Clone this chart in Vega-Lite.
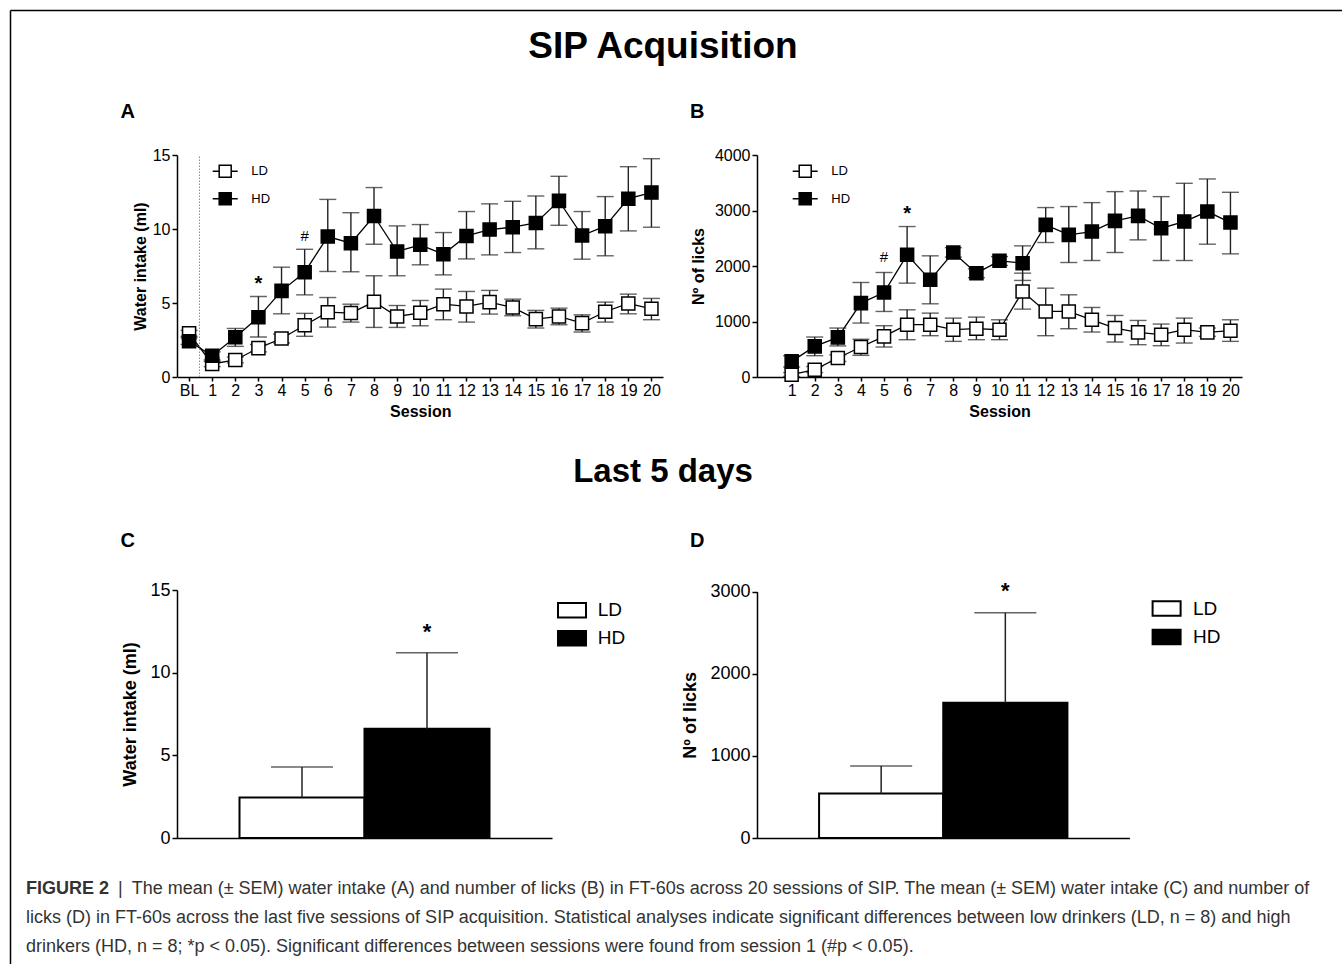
{
  "$schema": "https://vega.github.io/schema/vega-lite/v6.json",
  "width": 1342,
  "height": 964,
  "autosize": {"type": "none"},
  "padding": 0,
  "background": "white",
  "config": {
    "view": {"stroke": null},
    "axis": {"grid": false, "domainColor": "black", "domainWidth": 1.5, "tickColor": "black", "tickWidth": 1.5, "labelColor": "black", "titleColor": "black", "labelFont": "Liberation Sans", "titleFont": "Liberation Sans", "labelOverlap": false, "labelFlush": false},
    "legend": {"labelFont": "Liberation Sans", "labelColor": "black", "title": null, "orient": "none"},
    "text": {"font": "Liberation Sans"}
  },
  "datasets": {
    "A": [
      {"s": 0, "g": "LD", "m": 2.95, "lo": 2.75, "hi": 3.15},
      {"s": 1, "g": "LD", "m": 0.88, "lo": 0.7, "hi": 1.05},
      {"s": 2, "g": "LD", "m": 1.15, "lo": 0.95, "hi": 1.35},
      {"s": 3, "g": "LD", "m": 1.95, "lo": 1.7, "hi": 2.2},
      {"s": 4, "g": "LD", "m": 2.6, "lo": 2.3, "hi": 2.9},
      {"s": 5, "g": "LD", "m": 3.5, "lo": 2.75, "hi": 4.3},
      {"s": 6, "g": "LD", "m": 4.38, "lo": 3.37, "hi": 5.37},
      {"s": 7, "g": "LD", "m": 4.32, "lo": 3.71, "hi": 4.92},
      {"s": 8, "g": "LD", "m": 5.08, "lo": 3.35, "hi": 6.84},
      {"s": 9, "g": "LD", "m": 4.09, "lo": 3.35, "hi": 4.83},
      {"s": 10, "g": "LD", "m": 4.34, "lo": 3.46, "hi": 5.17},
      {"s": 11, "g": "LD", "m": 4.92, "lo": 3.87, "hi": 5.94},
      {"s": 12, "g": "LD", "m": 4.77, "lo": 3.71, "hi": 5.78},
      {"s": 13, "g": "LD", "m": 5.06, "lo": 4.25, "hi": 5.85},
      {"s": 14, "g": "LD", "m": 4.7, "lo": 4.14, "hi": 5.26},
      {"s": 15, "g": "LD", "m": 3.91, "lo": 3.31, "hi": 4.5},
      {"s": 16, "g": "LD", "m": 4.09, "lo": 3.53, "hi": 4.65},
      {"s": 17, "g": "LD", "m": 3.64, "lo": 3.04, "hi": 4.2},
      {"s": 18, "g": "LD", "m": 4.41, "lo": 3.71, "hi": 5.06},
      {"s": 19, "g": "LD", "m": 4.97, "lo": 4.27, "hi": 5.6},
      {"s": 20, "g": "LD", "m": 4.61, "lo": 3.87, "hi": 5.31},
      {"s": 0, "g": "HD", "m": 2.42, "lo": 2.2, "hi": 2.65},
      {"s": 1, "g": "HD", "m": 1.44, "lo": 1.15, "hi": 1.7},
      {"s": 2, "g": "HD", "m": 2.68, "lo": 2.07, "hi": 3.28},
      {"s": 3, "g": "HD", "m": 4.03, "lo": 2.7, "hi": 5.44},
      {"s": 4, "g": "HD", "m": 5.82, "lo": 4.27, "hi": 7.42},
      {"s": 5, "g": "HD", "m": 7.08, "lo": 5.55, "hi": 8.63},
      {"s": 6, "g": "HD", "m": 9.49, "lo": 7.13, "hi": 12.0},
      {"s": 7, "g": "HD", "m": 9.04, "lo": 7.11, "hi": 11.1},
      {"s": 8, "g": "HD", "m": 10.88, "lo": 8.97, "hi": 12.8},
      {"s": 9, "g": "HD", "m": 8.48, "lo": 6.84, "hi": 10.21},
      {"s": 10, "g": "HD", "m": 8.93, "lo": 7.58, "hi": 10.3},
      {"s": 11, "g": "HD", "m": 8.3, "lo": 6.9, "hi": 9.76},
      {"s": 12, "g": "HD", "m": 9.53, "lo": 7.98, "hi": 11.18},
      {"s": 13, "g": "HD", "m": 9.96, "lo": 8.25, "hi": 11.7},
      {"s": 14, "g": "HD", "m": 10.12, "lo": 8.41, "hi": 11.87},
      {"s": 15, "g": "HD", "m": 10.41, "lo": 8.66, "hi": 12.23},
      {"s": 16, "g": "HD", "m": 11.9, "lo": 10.25, "hi": 13.56},
      {"s": 17, "g": "HD", "m": 9.56, "lo": 7.96, "hi": 11.18},
      {"s": 18, "g": "HD", "m": 10.19, "lo": 8.19, "hi": 12.19},
      {"s": 19, "g": "HD", "m": 12.05, "lo": 9.87, "hi": 14.21},
      {"s": 20, "g": "HD", "m": 12.46, "lo": 10.12, "hi": 14.75}
    ],
    "B": [
      {"s": 1, "g": "LD", "m": 42, "lo": 10, "hi": 80},
      {"s": 2, "g": "LD", "m": 132, "lo": 80, "hi": 190},
      {"s": 3, "g": "LD", "m": 342, "lo": 280, "hi": 400},
      {"s": 4, "g": "LD", "m": 540, "lo": 390, "hi": 680},
      {"s": 5, "g": "LD", "m": 732, "lo": 540, "hi": 924},
      {"s": 6, "g": "LD", "m": 942, "lo": 672, "hi": 1211},
      {"s": 7, "g": "LD", "m": 942, "lo": 744, "hi": 1151},
      {"s": 8, "g": "LD", "m": 852, "lo": 642, "hi": 1061},
      {"s": 9, "g": "LD", "m": 870, "lo": 672, "hi": 1079},
      {"s": 10, "g": "LD", "m": 852, "lo": 672, "hi": 1031},
      {"s": 11, "g": "LD", "m": 1541, "lo": 1223, "hi": 1871},
      {"s": 12, "g": "LD", "m": 1181, "lo": 744, "hi": 1601},
      {"s": 13, "g": "LD", "m": 1181, "lo": 870, "hi": 1481},
      {"s": 14, "g": "LD", "m": 1031, "lo": 810, "hi": 1253},
      {"s": 15, "g": "LD", "m": 882, "lo": 630, "hi": 1109},
      {"s": 16, "g": "LD", "m": 804, "lo": 582, "hi": 1019},
      {"s": 17, "g": "LD", "m": 762, "lo": 564, "hi": 954},
      {"s": 18, "g": "LD", "m": 852, "lo": 612, "hi": 1061},
      {"s": 19, "g": "LD", "m": 804, "lo": 732, "hi": 882},
      {"s": 20, "g": "LD", "m": 834, "lo": 642, "hi": 1031},
      {"s": 1, "g": "HD", "m": 282, "lo": 180, "hi": 384},
      {"s": 2, "g": "HD", "m": 552, "lo": 384, "hi": 720},
      {"s": 3, "g": "HD", "m": 714, "lo": 560, "hi": 882},
      {"s": 4, "g": "HD", "m": 1331, "lo": 972, "hi": 1703},
      {"s": 5, "g": "HD", "m": 1523, "lo": 1181, "hi": 1883},
      {"s": 6, "g": "HD", "m": 2201, "lo": 1691, "hi": 2711},
      {"s": 7, "g": "HD", "m": 1751, "lo": 1319, "hi": 2183},
      {"s": 8, "g": "HD", "m": 2243, "lo": 2160, "hi": 2330},
      {"s": 9, "g": "HD", "m": 1871, "lo": 1790, "hi": 1950},
      {"s": 10, "g": "HD", "m": 2093, "lo": 2010, "hi": 2170},
      {"s": 11, "g": "HD", "m": 2051, "lo": 1740, "hi": 2363},
      {"s": 12, "g": "HD", "m": 2741, "lo": 2423, "hi": 3053},
      {"s": 13, "g": "HD", "m": 2561, "lo": 2063, "hi": 3071},
      {"s": 14, "g": "HD", "m": 2621, "lo": 2099, "hi": 3142},
      {"s": 15, "g": "HD", "m": 2813, "lo": 2243, "hi": 3340},
      {"s": 16, "g": "HD", "m": 2903, "lo": 2471, "hi": 3352},
      {"s": 17, "g": "HD", "m": 2681, "lo": 2099, "hi": 3250},
      {"s": 18, "g": "HD", "m": 2801, "lo": 2099, "hi": 3490},
      {"s": 19, "g": "HD", "m": 2981, "lo": 2393, "hi": 3568},
      {"s": 20, "g": "HD", "m": 2783, "lo": 2219, "hi": 3328}
    ],
    "Aann": [{"s": 3, "y": 6.3, "t": "*"}, {"s": 5, "y": 9.56, "t": "#"}],
    "Bann": [{"s": 6, "y": 2939, "t": "*"}, {"s": 5, "y": 2159, "t": "#"}],
    "C": [{"g": "LD", "m": 2.45, "hi": 4.3}, {"g": "HD", "m": 6.61, "hi": 11.2}],
    "D": [{"g": "LD", "m": 541, "hi": 878}, {"g": "HD", "m": 1646, "hi": 2744}],
    "Cann": [{"g": "HD", "y": 12.45, "t": "*"}],
    "Dann": [{"g": "HD", "y": 3010, "t": "*"}],
    "heads": [{"t": "SIP Acquisition", "r": 0}, {"t": "Last 5 days", "r": 1}],
    "letters": [{"t": "A", "c": 0, "r": 0}, {"t": "B", "c": 1, "r": 0}, {"t": "C", "c": 0, "r": 1}, {"t": "D", "c": 1, "r": 1}],
    "caption": [
      {"line": 0, "seg": 0, "w": "b", "t": "FIGURE 2"},
      {"line": 0, "seg": 1, "w": "n", "t": "|\u2002The mean (± SEM) water intake (A) and number of licks (B) in FT-60s across 20 sessions of SIP. The mean (± SEM) water intake (C) and number of"},
      {"line": 1, "seg": 0, "w": "n", "t": "licks (D) in FT-60s across the last five sessions of SIP acquisition. Statistical analyses indicate significant differences between low drinkers (LD, n = 8) and high"},
      {"line": 2, "seg": 0, "w": "n", "t": "drinkers (HD, n = 8; *p < 0.05). Significant differences between sessions were found from session 1 (#p < 0.05)."}
    ],
    "frame": [{"v": 0}]
  },
  "layer": [
    {
      "data": {"name": "A"},
      "layer": [
        {
          "mark": {"type": "line", "color": "black", "strokeWidth": 1.3},
          "encoding": {
            "x": {"field": "s", "type": "quantitative", "scale": {"domain": [-0.5, 20.5], "range": [177.5, 663], "nice": false, "zero": false},
              "axis": {"orient": "bottom", "offset": -587, "values": [0,1,2,3,4,5,6,7,8,9,10,11,12,13,14,15,16,17,18,19,20], "format": "d", "labelExpr": "datum.value === 0 ? 'BL' : datum.label", "title": "Session", "titleFontSize": 16, "titleFontWeight": "bold", "labelFontSize": 16, "tickSize": 4, "labelPadding": 1, "titlePadding": 5}},
            "y": {"field": "m", "type": "quantitative", "scale": {"domain": [0, 15], "range": [377, 155], "nice": false},
              "axis": {"orient": "left", "offset": -177, "values": [0, 5, 10, 15], "format": "d", "title": "Water intake (ml)", "titleFontSize": 16, "titleFontWeight": "bold", "labelFontSize": 16, "tickSize": 5, "labelPadding": 2, "titlePadding": 4}},
            "detail": {"field": "g"}
          }
        },
        {
          "data": {"values": [{"bl": 0.45, "y0": 0, "y1": 15}]},
          "mark": {"type": "rule", "color": "#888", "strokeDash": [1.5, 1.5], "strokeWidth": 1},
          "encoding": {"x": {"field": "bl", "type": "quantitative"}, "y": {"field": "y0", "type": "quantitative"}, "y2": {"field": "y1"}}
        },
        {
          "mark": {"type": "rule", "color": "#222", "strokeWidth": 1.4},
          "encoding": {"x": {"field": "s", "type": "quantitative"}, "y": {"field": "lo", "type": "quantitative"}, "y2": {"field": "hi"}}
        },
        {
          "mark": {"type": "tick", "orient": "horizontal", "color": "#222", "size": 17, "thickness": 1.4},
          "encoding": {"x": {"field": "s", "type": "quantitative"}, "y": {"field": "hi", "type": "quantitative"}}
        },
        {
          "mark": {"type": "tick", "orient": "horizontal", "color": "#222", "size": 17, "thickness": 1.4},
          "encoding": {"x": {"field": "s", "type": "quantitative"}, "y": {"field": "lo", "type": "quantitative"}}
        },
        {
          "mark": {"type": "point", "shape": "square", "filled": true, "size": 170, "stroke": "black", "strokeWidth": 1.5, "opacity": 1},
          "encoding": {
            "x": {"field": "s", "type": "quantitative"},
            "y": {"field": "m", "type": "quantitative"},
            "fill": {"field": "g", "type": "nominal", "scale": {"domain": ["LD", "HD"], "range": ["white", "black"]},
              "legend": {"orient": "none", "legendX": 211.7, "legendY": 157.7, "title": null, "symbolType": "M-1,0H-0.48M0.48,0H1M-0.48,-0.48H0.48V0.48H-0.48Z", "symbolSize": 625, "symbolStrokeColor": "black", "symbolStrokeWidth": 1.5, "labelFontSize": 13, "labelOffset": 12.6, "rowPadding": 4.6}}
          }
        },
        {
          "data": {"name": "Aann"},
          "transform": [{"filter": "datum.t === '*'"}],
          "mark": {"type": "text", "fontSize": 20, "fontWeight": "bold", "baseline": "middle", "color": "black"},
          "encoding": {"x": {"field": "s", "type": "quantitative"}, "y": {"field": "y", "type": "quantitative"}, "text": {"field": "t"}}
        },
        {
          "data": {"name": "Aann"},
          "transform": [{"filter": "datum.t === '#'"}],
          "mark": {"type": "text", "fontSize": 15, "baseline": "middle", "color": "black"},
          "encoding": {"x": {"field": "s", "type": "quantitative"}, "y": {"field": "y", "type": "quantitative"}, "text": {"field": "t"}}
        }
      ]
    },
    {
      "data": {"name": "B"},
      "layer": [
        {
          "mark": {"type": "line", "color": "black", "strokeWidth": 1.3},
          "encoding": {
            "x": {"field": "s", "type": "quantitative", "scale": {"domain": [-0.5, 20.5], "range": [757, 1242], "nice": false, "zero": false},
              "axis": {"orient": "bottom", "offset": -587, "values": [1,2,3,4,5,6,7,8,9,10,11,12,13,14,15,16,17,18,19,20], "format": "d", "title": "Session", "titleFontSize": 16, "titleFontWeight": "bold", "labelFontSize": 16, "tickSize": 4, "labelPadding": 1, "titlePadding": 5}},
            "y": {"field": "m", "type": "quantitative", "scale": {"domain": [0, 4000], "range": [377, 155], "nice": false},
              "axis": {"orient": "left", "offset": -757, "values": [0, 1000, 2000, 3000, 4000], "format": "d", "title": "Nº of licks", "titleFontSize": 16, "titleFontWeight": "bold", "labelFontSize": 16, "tickSize": 5, "labelPadding": 2, "titlePadding": 8}},
            "detail": {"field": "g"}
          }
        },
        {
          "mark": {"type": "rule", "color": "#222", "strokeWidth": 1.4},
          "encoding": {"x": {"field": "s", "type": "quantitative"}, "y": {"field": "lo", "type": "quantitative"}, "y2": {"field": "hi"}}
        },
        {
          "mark": {"type": "tick", "orient": "horizontal", "color": "#222", "size": 17, "thickness": 1.4},
          "encoding": {"x": {"field": "s", "type": "quantitative"}, "y": {"field": "hi", "type": "quantitative"}}
        },
        {
          "mark": {"type": "tick", "orient": "horizontal", "color": "#222", "size": 17, "thickness": 1.4},
          "encoding": {"x": {"field": "s", "type": "quantitative"}, "y": {"field": "lo", "type": "quantitative"}}
        },
        {
          "mark": {"type": "point", "shape": "square", "filled": true, "size": 170, "stroke": "black", "strokeWidth": 1.5, "opacity": 1},
          "encoding": {
            "x": {"field": "s", "type": "quantitative"},
            "y": {"field": "m", "type": "quantitative"},
            "fill": {"field": "g", "type": "nominal", "scale": {"domain": ["LD", "HD"], "range": ["white", "black"]},
              "legend": {"orient": "none", "legendX": 791.7, "legendY": 157.7, "title": null, "symbolType": "M-1,0H-0.48M0.48,0H1M-0.48,-0.48H0.48V0.48H-0.48Z", "symbolSize": 625, "symbolStrokeColor": "black", "symbolStrokeWidth": 1.5, "labelFontSize": 13, "labelOffset": 12.6, "rowPadding": 4.6}}
          }
        },
        {
          "data": {"name": "Bann"},
          "transform": [{"filter": "datum.t === '*'"}],
          "mark": {"type": "text", "fontSize": 20, "fontWeight": "bold", "baseline": "middle", "color": "black"},
          "encoding": {"x": {"field": "s", "type": "quantitative"}, "y": {"field": "y", "type": "quantitative"}, "text": {"field": "t"}}
        },
        {
          "data": {"name": "Bann"},
          "transform": [{"filter": "datum.t === '#'"}],
          "mark": {"type": "text", "fontSize": 15, "baseline": "middle", "color": "black"},
          "encoding": {"x": {"field": "s", "type": "quantitative"}, "y": {"field": "y", "type": "quantitative"}, "text": {"field": "t"}}
        }
      ]
    },
    {
      "data": {"name": "C"},
      "layer": [
        {
          "mark": {"type": "bar", "stroke": "black", "strokeWidth": 2},
          "encoding": {
            "x": {"field": "g", "type": "nominal", "scale": {"domain": ["LD", "HD"], "range": [177, 552], "paddingInner": 0, "paddingOuter": 0.5},
              "axis": {"orient": "bottom", "offset": -126, "labels": false, "ticks": false, "title": null}},
            "y": {"field": "m", "type": "quantitative", "scale": {"domain": [0, 15], "range": [838, 590], "nice": false},
              "axis": {"orient": "left", "offset": -177, "values": [0, 5, 10, 15], "format": "d", "title": "Water intake (ml)", "titleFontSize": 18, "titleFontWeight": "bold", "labelFontSize": 18, "tickSize": 5, "labelPadding": 2, "titlePadding": 10}},
            "fill": {"field": "g", "type": "nominal", "scale": {"domain": ["LD", "HD"], "range": ["white", "black"]},
              "legend": {"orient": "none", "legendX": 557, "legendY": 595.2, "title": null, "symbolType": "M-1,-0.52H1V0.52H-1Z", "symbolSize": 784, "symbolStrokeColor": "black", "symbolStrokeWidth": 2, "labelFontSize": 19, "labelOffset": 10.7, "rowPadding": 1}}
          }
        },
        {
          "mark": {"type": "rule", "color": "#222", "strokeWidth": 1.5},
          "encoding": {"x": {"field": "g", "type": "nominal"}, "y": {"field": "m", "type": "quantitative"}, "y2": {"field": "hi"}}
        },
        {
          "mark": {"type": "tick", "orient": "horizontal", "color": "#222", "size": 62, "thickness": 1.5},
          "encoding": {"x": {"field": "g", "type": "nominal"}, "y": {"field": "hi", "type": "quantitative"}}
        },
        {
          "data": {"name": "Cann"},
          "mark": {"type": "text", "fontSize": 22, "fontWeight": "bold", "baseline": "middle", "color": "black"},
          "encoding": {"x": {"field": "g", "type": "nominal"}, "y": {"field": "y", "type": "quantitative"}, "text": {"field": "t"}}
        }
      ]
    },
    {
      "data": {"name": "D"},
      "layer": [
        {
          "mark": {"type": "bar", "stroke": "black", "strokeWidth": 2},
          "encoding": {
            "x": {"field": "g", "type": "nominal", "scale": {"domain": ["LD", "HD"], "range": [757, 1129.5], "paddingInner": 0, "paddingOuter": 0.5},
              "axis": {"orient": "bottom", "offset": -126, "labels": false, "ticks": false, "title": null}},
            "y": {"field": "m", "type": "quantitative", "scale": {"domain": [0, 3000], "range": [838, 591.7], "nice": false},
              "axis": {"orient": "left", "offset": -757, "values": [0, 1000, 2000, 3000], "format": "d", "title": "Nº of licks", "titleFontSize": 18, "titleFontWeight": "bold", "labelFontSize": 18, "tickSize": 5, "labelPadding": 2, "titlePadding": 10}},
            "fill": {"field": "g", "type": "nominal", "scale": {"domain": ["LD", "HD"], "range": ["white", "black"]},
              "legend": {"orient": "none", "legendX": 1151.6, "legendY": 593.5, "title": null, "symbolType": "M-1,-0.52H1V0.52H-1Z", "symbolSize": 784, "symbolStrokeColor": "black", "symbolStrokeWidth": 2, "labelFontSize": 19, "labelOffset": 11.4, "rowPadding": 1.5}}
          }
        },
        {
          "mark": {"type": "rule", "color": "#222", "strokeWidth": 1.5},
          "encoding": {"x": {"field": "g", "type": "nominal"}, "y": {"field": "m", "type": "quantitative"}, "y2": {"field": "hi"}}
        },
        {
          "mark": {"type": "tick", "orient": "horizontal", "color": "#222", "size": 62, "thickness": 1.5},
          "encoding": {"x": {"field": "g", "type": "nominal"}, "y": {"field": "hi", "type": "quantitative"}}
        },
        {
          "data": {"name": "Dann"},
          "mark": {"type": "text", "fontSize": 22, "fontWeight": "bold", "baseline": "middle", "color": "black"},
          "encoding": {"x": {"field": "g", "type": "nominal"}, "y": {"field": "y", "type": "quantitative"}, "text": {"field": "t"}}
        }
      ]
    },
    {
      "data": {"name": "heads"},
      "layer": [
        {
          "transform": [{"filter": "datum.r === 0"}],
          "mark": {"type": "text", "fontSize": 37, "fontWeight": "bold", "baseline": "alphabetic", "align": "center", "color": "black"},
          "encoding": {
            "x": {"datum": 0.5, "type": "quantitative", "scale": {"domain": [0, 1], "range": [0, 1326]}, "axis": null},
            "y": {"field": "r", "type": "quantitative", "scale": {"domain": [0, 1], "range": [58.3, 482]}, "axis": null},
            "text": {"field": "t"}
          }
        },
        {
          "transform": [{"filter": "datum.r === 1"}],
          "mark": {"type": "text", "fontSize": 33, "fontWeight": "bold", "baseline": "alphabetic", "align": "center", "color": "black"},
          "encoding": {
            "x": {"datum": 0.5, "type": "quantitative", "axis": null},
            "y": {"field": "r", "type": "quantitative", "axis": null},
            "text": {"field": "t"}
          }
        }
      ]
    },
    {
      "data": {"name": "letters"},
      "mark": {"type": "text", "fontSize": 20, "fontWeight": "bold", "baseline": "middle", "align": "center", "color": "black"},
      "encoding": {
        "x": {"field": "c", "type": "quantitative", "scale": {"domain": [0, 1], "range": [127.8, 697.3]}, "axis": null},
        "y": {"field": "r", "type": "quantitative", "scale": {"domain": [0, 1], "range": [111.5, 541]}, "axis": null},
        "text": {"field": "t"}
      }
    },
    {
      "data": {"name": "caption"},
      "layer": [
        {
          "transform": [{"filter": "datum.w === 'b'"}],
          "mark": {"type": "text", "fontSize": 18, "fontWeight": "bold", "baseline": "alphabetic", "align": "left", "color": "#333"},
          "encoding": {
            "x": {"field": "seg", "type": "quantitative", "scale": {"domain": [0, 1], "range": [26, 118]}, "axis": null},
            "y": {"field": "line", "type": "quantitative", "scale": {"domain": [0, 2], "range": [894, 952]}, "axis": null},
            "text": {"field": "t"}
          }
        },
        {
          "transform": [{"filter": "datum.w === 'n'"}],
          "mark": {"type": "text", "fontSize": 18, "baseline": "alphabetic", "align": "left", "color": "#333"},
          "encoding": {
            "x": {"field": "seg", "type": "quantitative", "axis": null},
            "y": {"field": "line", "type": "quantitative", "axis": null},
            "text": {"field": "t"}
          }
        }
      ]
    },
    {
      "data": {"name": "frame"},
      "mark": {"type": "point", "opacity": 0},
      "encoding": {
        "x": {"field": "v", "type": "quantitative", "scale": {"domain": [0, 1], "range": [10, 1342]}, "axis": {"orient": "top", "offset": -10, "labels": false, "ticks": false, "title": null, "domainWidth": 1.5}},
        "y": {"field": "v", "type": "quantitative", "scale": {"domain": [0, 1], "range": [964, 10]}, "axis": {"orient": "left", "offset": -10, "labels": false, "ticks": false, "title": null, "domainWidth": 1.5}}
      }
    }
  ],
  "resolve": {
    "scale": {"x": "independent", "y": "independent", "fill": "independent"},
    "axis": {"x": "independent", "y": "independent"},
    "legend": {"fill": "independent"}
  }
}
